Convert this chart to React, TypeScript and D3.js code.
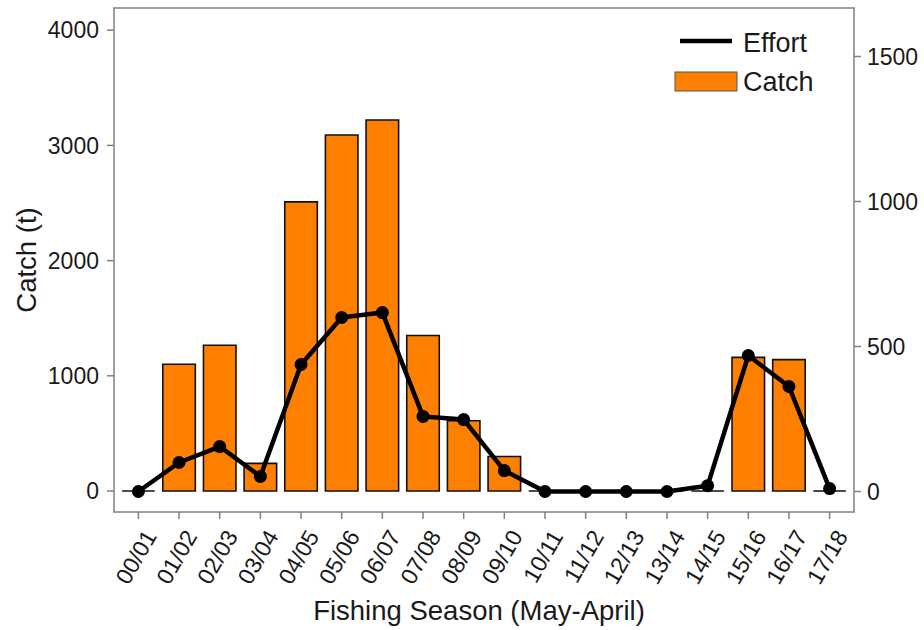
import * as d3 from "d3";
import React, { useEffect, useRef } from "react";

const seasons = [
  "00/01", "01/02", "02/03", "03/04", "04/05", "05/06", "06/07", "07/08", "08/09",
  "09/10", "10/11", "11/12", "12/13", "13/14", "14/15", "15/16", "16/17", "17/18",
];
const catchT = [0, 1100, 1265, 240, 2510, 3090, 3220, 1350, 610, 300, 0, 0, 0, 0, 0, 1160, 1140, 0];
const effort = [0, 100, 155, 52, 438, 600, 617, 259, 248, 72, 0, 0, 0, 0, 20, 469, 362, 10];
const catchTicks = [0, 1000, 2000, 3000, 4000];
const effortTicks = [0, 500, 1000, 1500];

export default function App() {
  const ref = useRef<SVGSVGElement>(null);

  useEffect(() => {
    const svg = d3.select(ref.current);
    svg.selectAll("*").remove();

    const left = 114, right = 854, top = 8, bottom = 512;
    const font = "'Liberation Sans', Arial, sans-serif";

    // discrete axis with 0.6 expansion on each side (ggplot like)
    const step = (right - left) / (seasons.length - 1 + 1.2);
    const x = (i: number) => left + step * (0.6 + i);
    const barW = step * 0.8;

    const yL = d3.scaleLinear().domain([0, 4000]).range([491, 30.2]);
    const yR = d3.scaleLinear().domain([0, 1500]).range([491.5, 56.5]);

    // bars (path so that zero bars still show as a line)
    svg
      .append("g")
      .selectAll("path")
      .data(catchT)
      .enter()
      .append("path")
      .attr("d", (d, i) => {
        const x0 = x(i) - barW / 2;
        const x1 = x(i) + barW / 2;
        return `M${x0},${yL(0)}V${yL(d)}H${x1}V${yL(0)}Z`;
      })
      .attr("fill", "#ff8000")
      .attr("stroke", "#111")
      .attr("stroke-width", 1.6);

    // effort line
    const line = d3
      .line<number>()
      .x((d, i) => x(i))
      .y((d) => yR(d));
    svg
      .append("path")
      .datum(effort)
      .attr("d", line)
      .attr("fill", "none")
      .attr("stroke", "#000")
      .attr("stroke-width", 4.5)
      .attr("stroke-linejoin", "round");
    svg
      .append("g")
      .selectAll("circle")
      .data(effort)
      .enter()
      .append("circle")
      .attr("cx", (d, i) => x(i))
      .attr("cy", (d) => yR(d))
      .attr("r", 6.5)
      .attr("fill", "#000");

    // panel border
    svg
      .append("rect")
      .attr("x", left)
      .attr("y", top)
      .attr("width", right - left)
      .attr("height", bottom - top)
      .attr("fill", "none")
      .attr("stroke", "#808080")
      .attr("stroke-width", 1.5);

    // left axis
    const gl = svg.append("g");
    catchTicks.forEach((t) => {
      gl.append("line")
        .attr("x1", left - 7).attr("x2", left)
        .attr("y1", yL(t)).attr("y2", yL(t))
        .attr("stroke", "#808080").attr("stroke-width", 1.5);
      gl.append("text")
        .attr("x", left - 15).attr("y", yL(t))
        .attr("dy", "0.36em")
        .attr("text-anchor", "end")
        .attr("font-family", font).attr("font-size", 23)
        .attr("fill", "#1a1a1a")
        .text(t);
    });

    // right axis
    const gr = svg.append("g");
    effortTicks.forEach((t) => {
      gr.append("line")
        .attr("x1", right).attr("x2", right + 7)
        .attr("y1", yR(t)).attr("y2", yR(t))
        .attr("stroke", "#808080").attr("stroke-width", 1.5);
      gr.append("text")
        .attr("x", right + 13).attr("y", yR(t))
        .attr("dy", "0.36em")
        .attr("text-anchor", "start")
        .attr("font-family", font).attr("font-size", 23)
        .attr("fill", "#1a1a1a")
        .text(t);
    });

    // x axis
    const gx = svg.append("g");
    seasons.forEach((s, i) => {
      gx.append("line")
        .attr("x1", x(i)).attr("x2", x(i))
        .attr("y1", bottom).attr("y2", bottom + 7)
        .attr("stroke", "#808080").attr("stroke-width", 1.5);
      gx.append("text")
        .attr("transform", `translate(${x(i) + 5},${bottom + 16}) rotate(-60)`)
        .attr("text-anchor", "end")
        .attr("dy", "0.7em")
        .attr("font-family", font).attr("font-size", 23)
        .attr("fill", "#1a1a1a")
        .text(s);
    });

    // axis titles
    svg.append("text")
      .attr("transform", `translate(36,${(top + bottom) / 2}) rotate(-90)`)
      .attr("text-anchor", "middle")
      .attr("font-family", font).attr("font-size", 27.5)
      .attr("fill", "#1a1a1a")
      .text("Catch (t)");
    svg.append("text")
      .attr("x", (left + right) / 2 - 5).attr("y", 620)
      .attr("text-anchor", "middle")
      .attr("font-family", font).attr("font-size", 27.5)
      .attr("fill", "#1a1a1a")
      .text("Fishing Season (May-April)");

    // legend
    const lg = svg.append("g");
    lg.append("line")
      .attr("x1", 680).attr("x2", 732).attr("y1", 41).attr("y2", 41)
      .attr("stroke", "#000").attr("stroke-width", 4.5);
    lg.append("text")
      .attr("x", 743).attr("y", 51.5)
      .attr("font-family", font).attr("font-size", 27)
      .attr("fill", "#1a1a1a")
      .text("Effort");
    lg.append("rect")
      .attr("x", 675).attr("y", 72).attr("width", 62).attr("height", 19)
      .attr("fill", "#ff8000").attr("stroke", "#555").attr("stroke-width", 1);
    lg.append("text")
      .attr("x", 743).attr("y", 90.5)
      .attr("font-family", font).attr("font-size", 27)
      .attr("fill", "#1a1a1a")
      .text("Catch");
  }, []);

  return (
    <svg
      ref={ref}
      width={924}
      height={630}
      style={{ position: "absolute", left: 0, top: 0, background: "#fff" }}
    />
  );
}
